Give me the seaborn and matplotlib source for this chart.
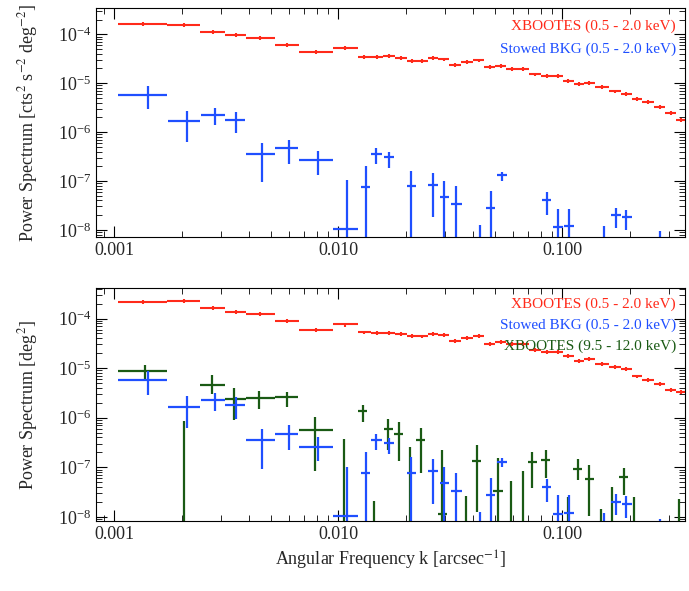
import numpy as np
import pandas as pd
import seaborn as sns
import matplotlib.pyplot as plt
from matplotlib.ticker import LogLocator, FixedLocator, NullFormatter

# --- data ---
red_edges = [0.001041, 0.001717, 0.002413, 0.003131, 0.003871, 0.005205, 0.006702, 0.009417,
             0.01222, 0.01394, 0.01585, 0.01787, 0.02016, 0.02237, 0.02512, 0.02799, 0.03131,
             0.03530, 0.03981, 0.04489, 0.05022, 0.05595, 0.06310, 0.07115, 0.08024, 0.09048,
             0.1008, 0.1128, 0.1246, 0.1405, 0.1617, 0.1824, 0.2056, 0.2273, 0.2563, 0.2890,
             0.3220, 0.3602]
red_top = [1.63e-4, 1.54e-4, 1.10e-4, 9.7e-5, 8.6e-5, 6.1e-5, 4.4e-5, 5.2e-5, 3.4e-5, 3.4e-5,
           3.6e-5, 3.3e-5, 2.9e-5, 2.84e-5, 3.3e-5, 3.07e-5, 2.33e-5, 2.71e-5, 2.93e-5, 2.12e-5,
           2.26e-5, 1.97e-5, 1.97e-5, 1.51e-5, 1.40e-5, 1.40e-5, 1.13e-5, 9.5e-6, 1.0e-5, 8.3e-6,
           6.8e-6, 6.0e-6, 4.8e-6, 4.1e-6, 3.3e-6, 2.44e-6, 1.79e-6]
red_bot = [2.16e-4, 2.26e-4, 1.66e-4, 1.38e-4, 1.22e-4, 9.0e-5, 5.8e-5, 7.6e-5, 5.25e-5, 5.2e-5,
           5.2e-5, 4.86e-5, 4.5e-5, 4.37e-5, 4.86e-5, 4.64e-5, 3.58e-5, 4.1e-5, 4.43e-5, 3.07e-5,
           3.36e-5, 3.02e-5, 3.02e-5, 2.33e-5, 2.09e-5, 2.15e-5, 1.77e-5, 1.42e-5, 1.51e-5, 1.22e-5,
           1.08e-5, 9.7e-6, 6.8e-6, 5.9e-6, 4.9e-6, 3.6e-6, 3.3e-6]
red_err_frac = 0.09

# blue: k, k_lo, k_hi, P, P_lo, P_hi  (P=1e-10 -> point below axis)
blue_k = [0.001405, 0.002098, 0.002810, 0.003502, 0.004543, 0.005989, 0.008089, 0.01096, 0.01323,
          0.01475, 0.01683, 0.02115, 0.02647, 0.02972, 0.03365, 0.04313, 0.04806, 0.05375, 0.08522,
          0.09531, 0.1075, 0.1535, 0.1731, 0.1936, 0.2744]
blue_klo = [0.001041, 0.001738, 0.002432, 0.003131, 0.003871, 0.005205, 0.006702, 0.009493, 0.01262,
            0.01394, 0.01604, 0.02016, 0.02522, 0.02833, 0.03194, 0.04313, 0.04544, 0.05103, 0.08121,
            0.09048, 0.1020, 0.1535, 0.1650, 0.1845, 0.2744]
blue_khi = [0.001717, 0.002413, 0.003131, 0.003825, 0.005205, 0.006622, 0.009417, 0.01222, 0.01389,
            0.01573, 0.01766, 0.02219, 0.02777, 0.03131, 0.03559, 0.04313, 0.05022, 0.05639, 0.08939,
            0.1008, 0.1128, 0.1535, 0.1824, 0.2040, 0.2744]
blue_p = [5.85e-6, 1.66e-6, 2.26e-6, 1.79e-6, 3.52e-7, 4.64e-7, 2.63e-7, 1.03e-8, 7.6e-8, 3.52e-7,
          3.07e-7, 7.7e-8, 8.3e-8, 4.8e-8, 3.4e-8, 1e-10, 2.8e-8, 1.30e-7, 4.0e-8, 1.13e-8, 1.22e-8,
          1e-10, 2.0e-8, 1.79e-8, 1e-10]
blue_plo = [2.93e-6, 6.3e-7, 1.40e-6, 9.5e-7, 9.3e-8, 2.26e-7, 1.32e-7, 1e-10, 1e-10, 2.22e-7,
            1.85e-7, 1e-10, 1.79e-8, 1e-10, 1e-10, 1e-10, 1e-10, 1.0e-7, 2.0e-8, 1e-10, 1e-10,
            1e-10, 1.11e-8, 9.7e-9, 1e-10]
blue_phi = [8.6e-6, 2.71e-6, 3.11e-6, 2.59e-6, 6.0e-7, 7.0e-7, 4.17e-7, 1.03e-7, 2.06e-7, 4.64e-7,
            3.86e-7, 1.58e-7, 1.44e-7, 1.0e-7, 7.7e-8, 1.26e-8, 6.1e-8, 1.54e-7, 5.85e-8, 2.71e-8,
            2.71e-8, 1.2e-8, 2.84e-8, 2.59e-8, 9.3e-9]

green_k = [0.001366, 0.002040, 0.002722, 0.003433, 0.004436, 0.005870, 0.007866, 0.01062, 0.01282,
           0.01445, 0.01669, 0.01860, 0.02081, 0.02328, 0.02913, 0.03704, 0.04144, 0.05164, 0.05894,
           0.06646, 0.07346, 0.08420, 0.1062, 0.1174, 0.1323, 0.1493, 0.1669, 0.1883, 0.2098, 0.3325]
green_klo = [0.001041, 0.002040, 0.002413, 0.003131, 0.003871, 0.005205, 0.006702, 0.01062, 0.01222,
             0.01445, 0.01591, 0.01773, 0.02081, 0.02219, 0.02777, 0.03704, 0.03950, 0.04923, 0.05894,
             0.06646, 0.07001, 0.08024, 0.1062, 0.1119, 0.1262, 0.1493, 0.1669, 0.1794, 0.2098, 0.3325]
green_khi = [0.001717, 0.002040, 0.003131, 0.003871, 0.005205, 0.006622, 0.009417, 0.01062, 0.01345,
             0.01445, 0.01752, 0.01952, 0.02081, 0.02442, 0.03056, 0.03704, 0.04347, 0.05418, 0.05894,
             0.06646, 0.07709, 0.08835, 0.1062, 0.1231, 0.1389, 0.1493, 0.1669, 0.1976, 0.2098, 0.3325]
green_p = [8.6e-6, 1e-10, 4.64e-6, 2.44e-6, 2.51e-6, 2.59e-6, 5.75e-7, 1e-10, 1.36e-6, 1e-10,
           6.0e-7, 4.79e-7, 1e-10, 3.52e-7, 1.13e-8, 1e-10, 1.36e-7, 3.26e-8, 1e-10, 1e-10,
           1.26e-7, 1.42e-7, 1e-10, 9.3e-8, 5.85e-8, 1e-10, 1e-10, 6.3e-8, 1e-10, 1e-10]
green_plo = [5.85e-6, 1e-10, 3.07e-6, 8.98e-7, 1.51e-6, 1.66e-6, 8.6e-8, 1e-10, 8.2e-7, 1e-10,
             2.22e-7, 1.32e-7, 1e-10, 7.6e-8, 1e-10, 1e-10, 1.26e-8, 1e-10, 1e-10, 1e-10,
             3.86e-8, 6.1e-8, 1e-10, 5.6e-8, 1.05e-8, 1e-10, 1e-10, 2.71e-8, 1e-10, 1e-10]
green_phi = [1.17e-5, 8.6e-7, 7.36e-6, 3.98e-6, 3.42e-6, 3.26e-6, 1.05e-6, 3.69e-7, 1.85e-6, 2.06e-8,
             9.55e-7, 8.2e-7, 2.59e-7, 6.1e-7, 2.22e-7, 2.67e-8, 2.84e-7, 1.51e-7, 5.25e-8, 8.6e-8,
             2.0e-7, 2.26e-7, 2.51e-8, 1.47e-7, 1.11e-7, 1.47e-8, 4.0e-8, 9.55e-8, 2.51e-8, 2.33e-8]

RED, BLUE, GREEN = "#ff2a1a", "#1f4fff", "#1a5a14"

sns.set_style("ticks")
plt.rcParams["font.family"] = "Liberation Serif"
plt.rcParams["mathtext.fontset"] = "stix"


def red_df(p):
    e = np.array(red_edges)
    k = np.sqrt(e[:-1] * e[1:])
    return pd.DataFrame({"k": k, "klo": e[:-1], "khi": e[1:], "P": p,
                         "Plo": np.array(p) * (1 - red_err_frac), "Phi": np.array(p) * (1 + red_err_frac)})


def pts_df(k, klo, khi, p, plo, phi):
    return pd.DataFrame({"k": k, "klo": klo, "khi": khi, "P": p, "Plo": plo, "Phi": phi})


def draw(ax, df, color, lw):
    ax.errorbar(df["k"], df["P"], xerr=[df["k"] - df["klo"], df["khi"] - df["k"]],
                yerr=[df["P"] - df["Plo"], df["Phi"] - df["P"]],
                fmt="none", ecolor=color, elinewidth=lw, capsize=0)


def style(ax, ylim):
    ax.set_xscale("log")
    ax.set_yscale("log")
    ax.set_xlim(8.25e-4, 0.353)
    ax.set_ylim(*ylim)
    ax.xaxis.set_major_locator(FixedLocator([0.001, 0.01, 0.1]))
    ax.set_xticklabels(["0.001", "0.010", "0.100"], fontsize=13)
    ax.xaxis.set_minor_locator(LogLocator(subs=np.arange(2, 10)))
    ax.xaxis.set_minor_formatter(NullFormatter())
    ax.yaxis.set_major_locator(FixedLocator([1e-8, 1e-7, 1e-6, 1e-5, 1e-4]))
    ax.yaxis.set_minor_locator(LogLocator(subs=np.arange(2, 10)))
    ax.yaxis.set_minor_formatter(NullFormatter())
    ax.tick_params(which="both", direction="in", top=True, right=True, labelsize=13, color="black")
    ax.tick_params(which="major", length=8)
    ax.tick_params(which="minor", length=4)
    for s in ax.spines.values():
        s.set_color("black")
    ax.yaxis.set_label_coords(-0.095, 0.5)


fig = plt.figure(figsize=(6.89, 5.91), dpi=100)
ax1 = fig.add_axes([0.139, 0.599, 0.855, 0.387])
ax2 = fig.add_axes([0.139, 0.118, 0.855, 0.395])

blue = pts_df(blue_k, blue_klo, blue_khi, blue_p, blue_plo, blue_phi)
green = pts_df(green_k, green_klo, green_khi, green_p, green_plo, green_phi)

draw(ax1, red_df(red_top), RED, 1.5)
draw(ax1, blue, BLUE, 1.6)
style(ax1, (10 ** -8.147, 10 ** -3.467))
ax1.set_ylabel("Power Spectrum [cts$^2$ s$^{-2}$ deg$^{-2}$]", fontsize=13)
ax1.text(0.985, 0.95, "XBOOTES (0.5 - 2.0 keV)", color=RED, ha="right", va="top",
         transform=ax1.transAxes, fontsize=11)
ax1.text(0.985, 0.85, "Stowed BKG (0.5 - 2.0 keV)", color=BLUE, ha="right", va="top",
         transform=ax1.transAxes, fontsize=11)

draw(ax2, red_df(red_bot), RED, 1.5)
draw(ax2, green, GREEN, 1.6)
draw(ax2, blue, BLUE, 1.6)
style(ax2, (10 ** -8.087, 10 ** -3.38))
ax2.set_ylabel("Power Spectrum [deg$^2$]", fontsize=13)
ax2.set_xlabel("Angular Frequency k [arcsec$^{-1}$]", fontsize=13)
ax2.text(0.985, 0.96, "XBOOTES (0.5 - 2.0 keV)", color=RED, ha="right", va="top",
         transform=ax2.transAxes, fontsize=11)
ax2.text(0.985, 0.87, "Stowed BKG (0.5 - 2.0 keV)", color=BLUE, ha="right", va="top",
         transform=ax2.transAxes, fontsize=11)
ax2.text(0.985, 0.78, "XBOOTES (9.5 - 12.0 keV)", color=GREEN, ha="right", va="top",
         transform=ax2.transAxes, fontsize=11)

fig.savefig("out.png", dpi=100)
